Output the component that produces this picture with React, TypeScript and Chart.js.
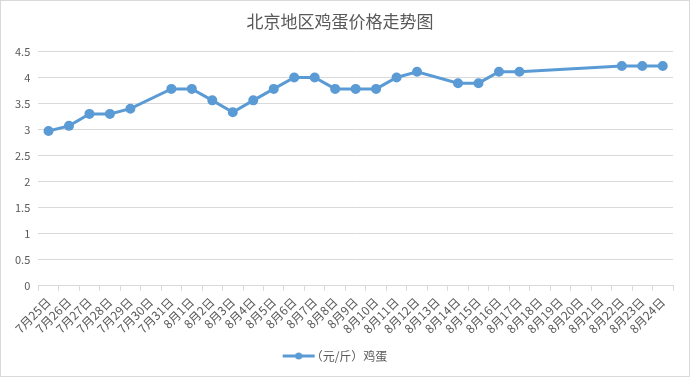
import React, { useEffect, useRef } from "react";
import { Chart, registerables } from "chart.js";

Chart.register(...registerables);

const title = "北京地区鸡蛋价格走势图";
const seriesLabel = "（元/斤）鸡蛋";
const categories = [
  "7月25日", "7月26日", "7月27日", "7月28日", "7月29日", "7月30日", "7月31日",
  "8月1日", "8月2日", "8月3日", "8月4日", "8月5日", "8月6日", "8月7日", "8月8日",
  "8月9日", "8月10日", "8月11日", "8月12日", "8月13日", "8月14日", "8月15日",
  "8月16日", "8月17日", "8月18日", "8月19日", "8月20日", "8月21日", "8月22日",
  "8月23日", "8月24日",
];
const eggPrices: (number | null)[] = [
  2.97, 3.07, 3.3, 3.3, 3.4, null, 3.78,
  3.78, 3.56, 3.33, 3.56, 3.78, 4.0, 4.0, 3.78,
  3.78, 3.78, 4.0, 4.11, null, 3.89, 3.89,
  4.11, 4.11, null, null, null, null, 4.22,
  4.22, 4.22,
];
const yTicks = [0, 0.5, 1, 1.5, 2, 2.5, 3, 3.5, 4, 4.5];

const BLUE = "#5b9bd5";
const TEXT = "#595959";
const GRID = "#d9d9d9";
const FONT = "'Noto Sans CJK SC', 'Noto Sans', sans-serif";

function legendIcon(): HTMLCanvasElement {
  const c = document.createElement("canvas");
  c.width = 34;
  c.height = 10;
  const ctx = c.getContext("2d")!;
  ctx.strokeStyle = BLUE;
  ctx.lineWidth = 3;
  ctx.beginPath();
  ctx.moveTo(1, 5);
  ctx.lineTo(33, 5);
  ctx.stroke();
  ctx.fillStyle = BLUE;
  ctx.beginPath();
  ctx.arc(17, 5, 3.5, 0, Math.PI * 2);
  ctx.fill();
  return c;
}

export default function App() {
  const ref = useRef<HTMLCanvasElement>(null);
  useEffect(() => {
    document.body.style.margin = "0";
    const icon = legendIcon();
    const chart = new Chart(ref.current!, {
      type: "line",
      data: {
        labels: categories,
        datasets: [
          {
            label: seriesLabel,
            data: eggPrices,
            borderColor: BLUE,
            backgroundColor: BLUE,
            borderWidth: 3,
            pointRadius: 3.5,
            pointBackgroundColor: BLUE,
            pointBorderColor: BLUE,
            spanGaps: true,
            tension: 0,
          },
        ],
      },
      options: {
        animation: false,
        responsive: false,
        layout: { padding: { left: 6, right: 16, top: 4, bottom: 4 } },
        plugins: {
          title: {
            display: true,
            text: title,
            color: TEXT,
            font: { family: FONT, size: 17, weight: "normal" },
            padding: { top: 6, bottom: 20 },
          },
          legend: {
            position: "bottom",
            labels: {
              color: TEXT,
              font: { family: FONT, size: 12 },
              usePointStyle: true,
              generateLabels: (ch: any) =>
                ch.data.datasets.map((d: any, i: number) => ({
                  text: d.label,
                  fillStyle: BLUE,
                  strokeStyle: BLUE,
                  pointStyle: icon,
                  datasetIndex: i,
                  fontColor: TEXT,
                })),
              padding: 10,
            },
          },
          tooltip: { enabled: false },
        },
        scales: {
          x: {
            offset: true,
            grid: {
              offset: true,
              drawOnChartArea: false,
              drawTicks: true,
              tickLength: 5,
              color: GRID,
            },
            border: { color: GRID },
            ticks: {
              color: TEXT,
              font: { family: FONT, size: 12 },
              minRotation: 45,
              maxRotation: 45,
              autoSkip: false,
              padding: 4,
            },
          },
          y: {
            min: 0,
            max: 4.5,
            afterBuildTicks: (axis: any) => {
              axis.ticks = yTicks.map((v) => ({ value: v }));
            },
            grid: { color: GRID, drawTicks: false },
            border: { display: false },
            ticks: {
              color: TEXT,
              font: { family: FONT, size: 11 },
              padding: 8,
              callback: (v: any) => String(v),
            },
          },
        },
      },
    });
    return () => chart.destroy();
  }, []);
  return (
    <div
      style={{
        width: 690,
        height: 377,
        boxSizing: "border-box",
        border: `1px solid ${GRID}`,
        background: "#fff",
      }}
    >
      <canvas ref={ref} width={688} height={375} style={{ display: "block" }} />
    </div>
  );
}
